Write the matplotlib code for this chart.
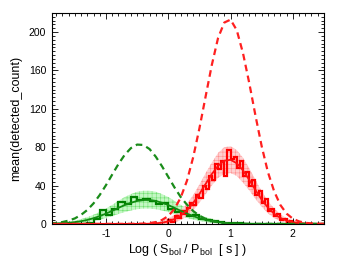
import numpy as np
import matplotlib
matplotlib.use("Agg")
import matplotlib.pyplot as plt
from matplotlib.ticker import MultipleLocator

plt.rcParams['font.family'] = ['Liberation Sans', 'DejaVu Sans']
plt.rcParams['mathtext.fontset'] = 'custom'
plt.rcParams['mathtext.rm'] = 'Liberation Sans'
plt.rcParams['axes.unicode_minus'] = False
plt.rcParams['hatch.linewidth'] = 0.4

# smooth curves sampled on log(S/P) = -1.9 ... 2.5, step 0.1
x_grid = np.round(np.arange(-19, 26) / 10, 1)

red_dashed = [0, 0, 0, 0, 0, 0, 0, 0, 0, 0, 0, 0, 0, 0.05,
              0.1, 0.3, 0.8, 1.9, 4.1,
              8.2, 15.6, 27.5, 45, 69.5, 99.6, 133, 166, 194, 210,
              213, 202, 178, 147, 113, 81, 54, 34, 19.7, 10.7,
              5.4, 2.6, 1.1, 0.5, 0.2, 0.1]

green_dashed = [0.5, 1.0, 1.9, 3.4, 5.7, 9.4, 14.5, 21.4, 30.2,
                40.4, 51.5, 62.4, 72, 79, 82.7, 82.3, 78, 70, 60,
                49, 38, 28, 20, 13.4, 8.5, 5.2, 3.0, 1.6, 0.8,
                0.4, 0.2, 0.1, 0, 0, 0, 0, 0, 0, 0,
                0, 0, 0, 0, 0, 0]

green_model = [0.2, 0.4, 0.7, 1.1, 1.8, 2.8, 4.1, 5.9, 8.1,
               10.7, 13.6, 16.7, 19.6, 22, 23.9, 24.9, 24.9, 23.9, 22,
               19.6, 16.7, 13.6, 10.7, 8.1, 5.9, 4.1, 2.8, 1.8, 1.1,
               0.7, 0.4, 0.2, 0.1, 0, 0, 0, 0, 0, 0,
               0, 0, 0, 0, 0, 0]
green_lo = [0, 0, 0, 0.2, 0.5, 1.0, 1.8, 3, 4.5,
            6.3, 8.2, 10.3, 12.3, 14, 15.3, 16, 16, 15.3, 14,
            12.3, 10.3, 8.2, 6.3, 4.5, 3, 1.8, 1, 0.5, 0.2,
            0, 0, 0, 0, 0, 0, 0, 0, 0, 0,
            0, 0, 0, 0, 0, 0]
green_hi = [0.5, 0.9, 1.5, 2.3, 3.4, 5, 7, 9.5, 12.5,
            16, 19.8, 24, 28, 31, 33.5, 34.5, 34.5, 33.5, 31,
            28, 24, 19.8, 16, 12.5, 9.5, 7, 5, 3.4, 2.3,
            1.5, 0.9, 0.5, 0.3, 0, 0, 0, 0, 0, 0,
            0, 0, 0, 0, 0, 0]

red_model = [0, 0, 0, 0, 0, 0, 0, 0, 0, 0, 0, 0, 0, 0, 0, 0,
             0.2, 0.5, 1.2,
             2.6, 4.9, 8.6, 14.2, 21.8, 31.2, 41.7, 52, 60.6, 65.9,
             66.8, 63.2, 55.8, 46, 35.3, 25.3, 17, 10.6, 6.2, 3.3,
             1.7, 0.8, 0.4, 0.15, 0.05, 0]
red_lo = [0] * 19 + [0, 1, 4, 8, 14, 22, 31, 40, 48, 52,
                     53, 50, 43, 35, 26, 18, 11, 6, 3, 1,
                     0, 0, 0, 0, 0, 0]
red_hi = [0] * 16 + [0.5, 1.5, 3.5,
                     6, 9, 14, 21, 30, 41, 53, 64, 74, 80,
                     81, 77, 69, 58, 46, 34, 24, 16, 10, 6,
                     3.5, 2, 1, 0.5, 0, 0]

# histograms
green_edges = np.round(np.arange(-19, 26) / 10, 2)
green_counts = [0, 0, 0, 0, 0, 0,
                1, 5, 14, 9, 15, 23, 21, 28, 25, 26, 24, 21, 22,
                16, 12, 13, 8, 9, 5, 4, 3, 2, 1,
                1, 0.5, 0, 0, 0, 0, 0, 0, 0, 0, 0, 0, 0, 0, 0]

red_edges = np.round(np.arange(0, 45) * 0.05, 2)
red_counts = [4, 2, 8, 6, 13, 10, 17, 22, 20, 30,
              27, 40, 36, 50, 46, 62, 57, 66, 50, 77,
              68, 70, 58, 66, 50, 54, 40, 46, 30, 34,
              22, 26, 13, 16, 8, 10, 4, 5, 2, 3,
              1, 1, 0, 0]

fig = plt.figure(figsize=(3.41, 2.64), dpi=100)
ax = fig.add_axes([0.152, 0.152, 0.798, 0.799])

# bootstrap bands
ax.fill_between(x_grid, green_lo, green_hi, facecolor='#c4f7c4',
                edgecolor='#6fe06f', hatch='++++', linewidth=0)
ax.fill_between(x_grid, red_lo, red_hi, facecolor='#ffd0d0',
                edgecolor='#ff9090', hatch='++++', linewidth=0)

ax.stairs(green_counts, green_edges, color='#008000', lw=1.6)
ax.stairs(red_counts, red_edges, color='#ff0000', lw=1.6)

ax.plot(x_grid, green_model, color='#108c10', lw=1.3)
ax.plot(x_grid, red_model, color='#ff1010', lw=1.3)

ax.plot(x_grid, green_dashed, color='#1a8c1a', lw=1.6, ls=(0, (3, 2)))
ax.plot(x_grid, red_dashed, color='#ff2020', lw=1.6, ls=(0, (3, 2)))

ax.set_xlim(-1.87, 2.5)
ax.set_ylim(0, 220)
ax.set_xticks([-1, 0, 1, 2])
ax.set_yticks([0, 40, 80, 120, 160, 200])
ax.xaxis.set_minor_locator(MultipleLocator(0.1))
ax.yaxis.set_minor_locator(MultipleLocator(4))
ax.tick_params(which='both', direction='in', top=True, right=True,
               labelsize=7.5, width=0.6, pad=4)
ax.tick_params(which='major', length=4)
ax.tick_params(which='minor', length=2)
for s in ax.spines.values():
    s.set_linewidth(0.8)

ax.set_xlabel(r'Log ( S$_{\rm bol}$ / P$_{\rm bol}$  [ s ] )', fontsize=9, labelpad=2)
ax.set_ylabel('mean(detected_count)', fontsize=9, labelpad=5)

fig.savefig('out.png', dpi=100)
